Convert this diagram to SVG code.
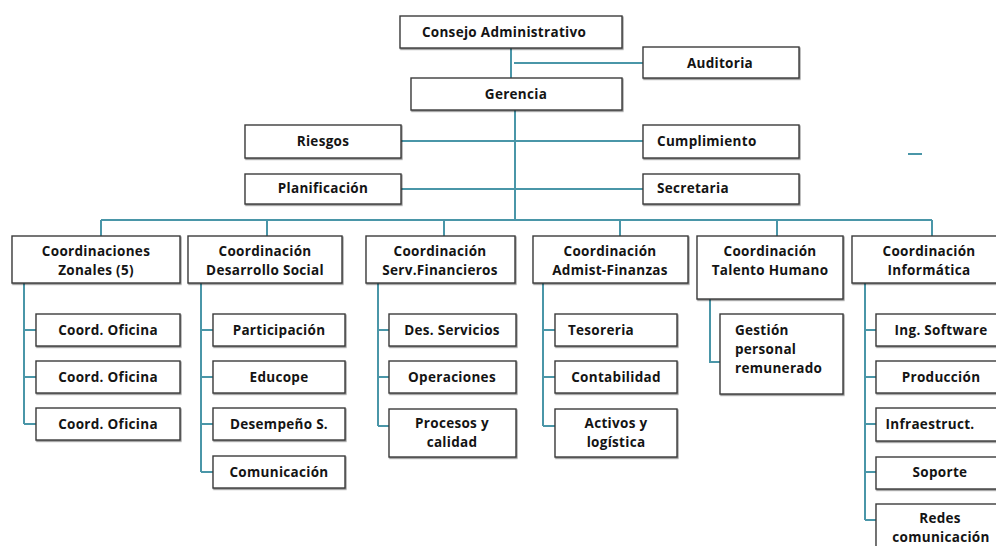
<svg xmlns="http://www.w3.org/2000/svg" width="996" height="546" viewBox="0 0 996 546">
<defs>
<filter id="sh" x="-10%" y="-10%" width="130%" height="140%">
<feDropShadow dx="0.8" dy="1.2" stdDeviation="0.6" flood-color="#000" flood-opacity="0.45"/>
</filter>
</defs>
<style>
.box{fill:#fff;stroke:#3a3a3a;stroke-width:1.4;filter:url(#sh)}
.t{font-family:"Open Sans","Liberation Sans",sans-serif;font-weight:bold;font-size:13.5px;letter-spacing:0.3px;fill:#141414;text-anchor:middle}
.l{text-anchor:start}
.c{fill:none;stroke:#4a96a8;stroke-width:2}
</style>
<rect width="996" height="546" fill="#fff"/>
<g id="connectors">
<path class="c" d="M511 48V78M514 63H643M515 110V220M401 141H643M401 189H643M101 220H932M101 220V236M267 220V236M444 220V236M620 220V236M777 220V236M932 220V236"/>
<path class="c" d="M24 283V424M24 330H36M24 377H36M24 424H36"/>
<path class="c" d="M201 283V472M201 330H213M201 377H213M201 424H213M201 472H213"/>
<path class="c" d="M378 283V426M378 330H389M378 377H389M378 426H389"/>
<path class="c" d="M543 283V426M543 330H555M543 377H555M543 426H555"/>
<path class="c" d="M710 299V362H720"/>
<path class="c" d="M865 283V520M865 330H876M865 377H876M865 424H876M865 472H876M865 520H876"/>
<path class="c" d="M908 154H922"/>
</g>
<g id="consejo"><rect class="box" x="400" y="16" width="222" height="32"/><text class="t" x="504" y="37">Consejo Administrativo</text></g>
<g id="auditoria"><rect class="box" x="643" y="47" width="156" height="31"/><text class="t" x="720" y="68">Auditoria</text></g>
<g id="gerencia"><rect class="box" x="411" y="78" width="211" height="32"/><text class="t" x="516" y="99">Gerencia</text></g>
<g id="riesgos"><rect class="box" x="245" y="125" width="156" height="33"/><text class="t" x="323" y="146">Riesgos</text></g>
<g id="cumplimiento"><rect class="box" x="643" y="125" width="156" height="33"/><text class="t l" x="657" y="146">Cumplimiento</text></g>
<g id="planificacion"><rect class="box" x="245" y="174" width="156" height="30"/><text class="t" x="323" y="193">Planificación</text></g>
<g id="secretaria"><rect class="box" x="643" y="174" width="156" height="30"/><text class="t l" x="657" y="193">Secretaria</text></g>

<g id="zonales"><rect class="box" x="12" y="236" width="168" height="47"/><text class="t" x="96" y="256">Coordinaciones</text><text class="t" x="96" y="275">Zonales (5)</text></g>
<g id="desarrollo"><rect class="box" x="188" y="236" width="154" height="47"/><text class="t" x="265" y="256">Coordinación</text><text class="t" x="265" y="275">Desarrollo Social</text></g>
<g id="servfin"><rect class="box" x="366" y="236" width="149" height="47"/><text class="t" x="440" y="256">Coordinación</text><text class="t" x="440" y="275">Serv.Financieros</text></g>
<g id="admist"><rect class="box" x="533" y="236" width="155" height="47"/><text class="t" x="610" y="256">Coordinación</text><text class="t" x="610" y="275">Admist-Finanzas</text></g>
<g id="talento"><rect class="box" x="697" y="236" width="146" height="63"/><text class="t" x="770" y="256">Coordinación</text><text class="t" x="770" y="275">Talento Humano</text></g>
<g id="informatica"><rect class="box" x="852" y="236" width="150" height="47"/><text class="t" x="929" y="256">Coordinación</text><text class="t" x="929" y="275">Informática</text></g>

<g id="oficina1"><rect class="box" x="36" y="314" width="144" height="32"/><text class="t" x="108" y="335">Coord. Oficina</text></g>
<g id="oficina2"><rect class="box" x="36" y="361" width="144" height="32"/><text class="t" x="108" y="382">Coord. Oficina</text></g>
<g id="oficina3"><rect class="box" x="36" y="408" width="144" height="32"/><text class="t" x="108" y="429">Coord. Oficina</text></g>

<g id="participacion"><rect class="box" x="213" y="314" width="132" height="32"/><text class="t" x="279" y="335">Participación</text></g>
<g id="educope"><rect class="box" x="213" y="361" width="132" height="32"/><text class="t" x="279" y="382">Educope</text></g>
<g id="desempeno"><rect class="box" x="213" y="408" width="132" height="32"/><text class="t" x="279" y="429">Desempeño S.</text></g>
<g id="comunicacion"><rect class="box" x="213" y="456" width="132" height="32"/><text class="t" x="279" y="477">Comunicación</text></g>

<g id="desservicios"><rect class="box" x="389" y="314" width="127" height="32"/><text class="t" x="452" y="335">Des. Servicios</text></g>
<g id="operaciones"><rect class="box" x="389" y="361" width="127" height="32"/><text class="t" x="452" y="382">Operaciones</text></g>
<g id="procesos"><rect class="box" x="389" y="409" width="127" height="48"/><text class="t" x="452" y="428">Procesos y</text><text class="t" x="452" y="447">calidad</text></g>

<g id="tesoreria"><rect class="box" x="555" y="314" width="122" height="32"/><text class="t" x="601" y="335">Tesoreria</text></g>
<g id="contabilidad"><rect class="box" x="555" y="361" width="122" height="32"/><text class="t" x="616" y="382">Contabilidad</text></g>
<g id="activos"><rect class="box" x="555" y="409" width="122" height="48"/><text class="t" x="616" y="428">Activos y</text><text class="t" x="616" y="447">logística</text></g>

<g id="gestion"><rect class="box" x="720" y="314" width="123" height="80"/><text class="t l" x="735" y="335">Gestión</text><text class="t l" x="735" y="354">personal</text><text class="t l" x="735" y="373">remunerado</text></g>

<g id="software"><rect class="box" x="876" y="314" width="126" height="32"/><text class="t" x="941" y="335">Ing. Software</text></g>
<g id="produccion"><rect class="box" x="876" y="361" width="126" height="32"/><text class="t" x="941" y="382">Producción</text></g>
<g id="infraestruct"><rect class="box" x="876" y="408" width="126" height="33"/><text class="t" x="930" y="429">Infraestruct.</text></g>
<g id="soporte"><rect class="box" x="876" y="457" width="126" height="32"/><text class="t" x="940" y="477">Soporte</text></g>
<g id="redes"><rect class="box" x="876" y="504" width="126" height="50"/><text class="t" x="940" y="523">Redes</text><text class="t" x="941" y="542">comunicación</text></g>
</svg>
